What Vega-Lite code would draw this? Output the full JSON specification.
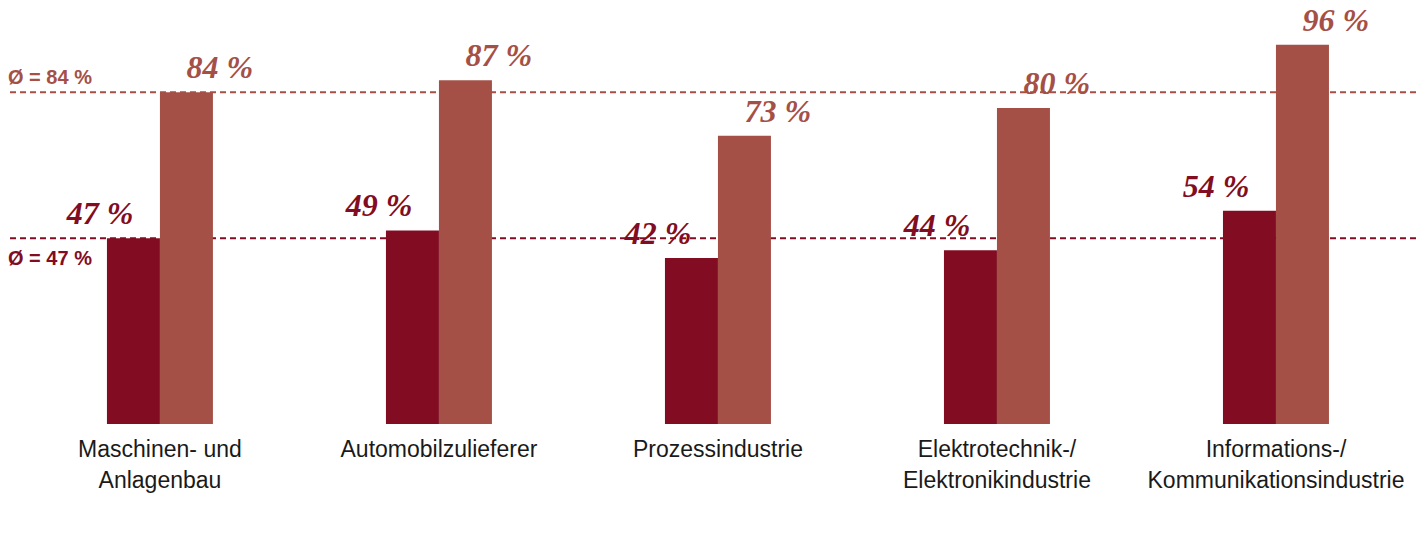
{
  "$schema": "https://vega.github.io/schema/vega-lite/v6.json",
  "width": 1408,
  "height": 395,
  "autosize": {"type": "none"},
  "padding": {"left": 8, "top": 29, "right": 10, "bottom": 118},
  "background": "white",
  "config": {"view": {"stroke": null}, "font": "Liberation Sans"},
  "datasets": {
    "bars": [
      {"branche": "Maschinen- und Anlagenbau", "series": "heute", "value": 47},
      {"branche": "Maschinen- und Anlagenbau", "series": "in 5 Jahren", "value": 84},
      {"branche": "Automobilzulieferer", "series": "heute", "value": 49},
      {"branche": "Automobilzulieferer", "series": "in 5 Jahren", "value": 87},
      {"branche": "Prozessindustrie", "series": "heute", "value": 42},
      {"branche": "Prozessindustrie", "series": "in 5 Jahren", "value": 73},
      {"branche": "Elektrotechnik-/Elektronikindustrie", "series": "heute", "value": 44},
      {"branche": "Elektrotechnik-/Elektronikindustrie", "series": "in 5 Jahren", "value": 80},
      {"branche": "Informations-/Kommunikationsindustrie", "series": "heute", "value": 54},
      {"branche": "Informations-/Kommunikationsindustrie", "series": "in 5 Jahren", "value": 96}
    ],
    "avg": [
      {"series": "in 5 Jahren", "avg": 84, "label": "Ø = 84 %"},
      {"series": "heute", "avg": 47, "label": "Ø = 47 %"}
    ]
  },
  "layer": [
    {
      "data": {"name": "avg"},
      "mark": {"type": "rule", "strokeDash": [6, 4], "strokeWidth": 2},
      "encoding": {
        "y": {"field": "avg", "type": "quantitative", "scale": {"domain": [0, 100]}, "axis": null},
        "color": {"field": "series", "type": "nominal", "scale": {"domain": ["heute", "in 5 Jahren"], "range": ["#820d22", "#a55047"]}, "legend": null}
      }
    },
    {
      "data": {"name": "bars"},
      "mark": {"type": "bar"},
      "encoding": {
        "x": {
          "field": "branche", "type": "nominal", "sort": null,
          "scale": {"paddingInner": 0.6201, "paddingOuter": 0.3333, "align": 0.532},
          "axis": {
            "title": null, "domain": false, "ticks": false, "tickSize": 0,
            "labelAngle": 0, "labelFontSize": 23, "labelColor": "#1a1a1a",
            "labelPadding": 14, "labelLineHeight": 31.5, "labelLimit": 400,
            "labelExpr": "split(replace(replace(datum.label, '- und ', '- und|'), '-/', '-/|'), '|')"
          }
        },
        "xOffset": {"field": "series", "type": "nominal", "scale": {"paddingInner": 0, "paddingOuter": 0}},
        "y": {"field": "value", "type": "quantitative", "scale": {"domain": [0, 100]}, "axis": null},
        "fill": {
          "field": "series", "type": "nominal",
          "scale": {"domain": ["heute", "in 5 Jahren"], "range": ["#820d22", "#a55047"]},
          "legend": {
            "title": null, "orient": "none", "legendX": 2, "legendY": 489,
            "direction": "horizontal", "symbolType": "square", "symbolSize": 529,
            "symbolStrokeWidth": 0, "labelFontSize": 22, "labelColor": "#1a1a1a",
            "labelOffset": 14, "columnPadding": 48, "padding": 0
          }
        }
      }
    },
    {
      "data": {"name": "bars"},
      "transform": [{"filter": "datum.series == 'heute'"}, {"calculate": "datum.value + ' %'", "as": "label"}],
      "mark": {"type": "text", "align": "right", "baseline": "alphabetic", "dy": -14, "font": "Liberation Serif", "fontStyle": "italic", "fontWeight": "bold", "fontSize": 32},
      "encoding": {
        "x": {"field": "branche", "type": "nominal", "sort": null},
        "xOffset": {"field": "series", "type": "nominal"},
        "y": {"field": "value", "type": "quantitative"},
        "text": {"field": "label"},
        "color": {"field": "series", "type": "nominal", "legend": null}
      }
    },
    {
      "data": {"name": "bars"},
      "transform": [{"filter": "datum.series == 'in 5 Jahren'"}, {"calculate": "datum.value + ' %'", "as": "label"}],
      "mark": {"type": "text", "align": "left", "baseline": "alphabetic", "dy": -14, "font": "Liberation Serif", "fontStyle": "italic", "fontWeight": "bold", "fontSize": 32},
      "encoding": {
        "x": {"field": "branche", "type": "nominal", "sort": null},
        "xOffset": {"field": "series", "type": "nominal"},
        "y": {"field": "value", "type": "quantitative"},
        "text": {"field": "label"},
        "color": {"field": "series", "type": "nominal", "legend": null}
      }
    },
    {
      "data": {"name": "avg"},
      "transform": [{"filter": "datum.series == 'in 5 Jahren'"}],
      "mark": {"type": "text", "align": "left", "baseline": "alphabetic", "dy": -8, "fontWeight": "bold", "fontSize": 20},
      "encoding": {
        "x": {"value": 0},
        "y": {"field": "avg", "type": "quantitative"},
        "text": {"field": "label"},
        "color": {"field": "series", "type": "nominal", "legend": null}
      }
    },
    {
      "data": {"name": "avg"},
      "transform": [{"filter": "datum.series == 'heute'"}],
      "mark": {"type": "text", "align": "left", "baseline": "top", "dy": 11, "fontWeight": "bold", "fontSize": 20},
      "encoding": {
        "x": {"value": 0},
        "y": {"field": "avg", "type": "quantitative"},
        "text": {"field": "label"},
        "color": {"field": "series", "type": "nominal", "legend": null}
      }
    }
  ]
}
